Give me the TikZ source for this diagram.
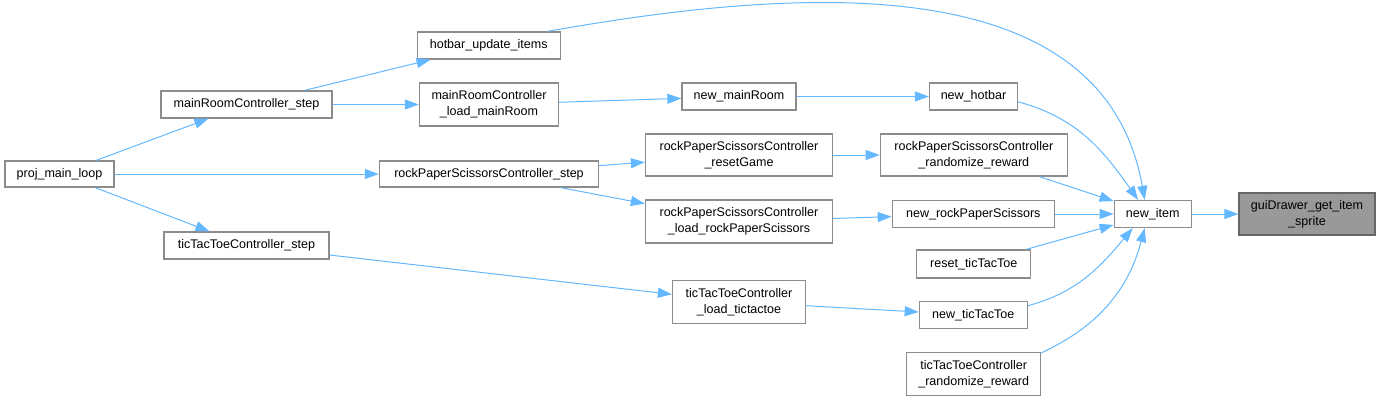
\documentclass[tikz,border=0pt]{standalone}
\usepackage{fontspec}
\setmainfont{Liberation Sans}
\usetikzlibrary{arrows.meta, positioning}
\definecolor{edgeblue}{RGB}{99,184,255}
\definecolor{boxgray}{RGB}{140,140,140}
\definecolor{hlfill}{RGB}{153,153,153}
\definecolor{hldraw}{RGB}{102,102,102}
\tikzset{
  % function box (width and height in px)
  fnbox/.style 2 args={
    rectangle, draw=boxgray, fill=white, line width=1pt,
    minimum width=#1*0.75pt, minimum height=#2*0.75pt, inner sep=0pt,
    align=center, font=\fontsize{9.4pt}{12pt}\selectfont
  },
  hlbox/.style 2 args={fnbox={#1}{#2}, draw=hldraw, fill=hlfill},
  callarrow/.style={-{Triangle[length=10.5pt, width=7.5pt]}, edgeblue, line width=0.75pt}
}
\begin{document}
\begin{tikzpicture}[x=0.75pt, y=-0.75pt]
  \useasboundingbox (0,0) rectangle (1380,401);

  % Callers, left to right
  \node[fnbox={109}{26}] (loop) at (59.5,174) {proj\_main\_loop};

  \node[fnbox={171}{27}] (mrstep) at (246.5,104.5) {mainRoomController\_step};
  \node[fnbox={165}{27}] (tttstep) at (246.5,245.5) {ticTacToeController\_step};

  \node[fnbox={143}{27}] (hbupd) at (488.7,45.5) {hotbar\_update\_items};
  \node[fnbox={139}{43}] (mrload) at (489,104.5) {mainRoomController\\\_load\_mainRoom};
  \node[fnbox={219}{26}] (rpsstep) at (489,174) {rockPaperScissorsController\_step};

  \node[fnbox={114}{27}] (newmr) at (739,96.5) {new\_mainRoom};
  \node[fnbox={187}{42}] (rpsreset) at (739,155) {rockPaperScissorsController\\\_resetGame};
  \node[fnbox={187}{43}] (rpsload) at (739,221.5) {rockPaperScissorsController\\\_load\_rockPaperScissors};
  \node[fnbox={133}{43}] (tttload) at (739,302) {ticTacToeController\\\_load\_tictactoe};

  \node[fnbox={88}{27}] (newhb) at (973.5,96.5) {new\_hotbar};
  \node[fnbox={187}{42}] (rpsrand) at (973.8,155) {rockPaperScissorsController\\\_randomize\_reward};
  \node[fnbox={162}{27}] (newrps) at (973.3,214) {new\_rockPaperScissors};
  \node[fnbox={114}{28}] (tttreset) at (973.7,264) {reset\_ticTacToe};
  \node[fnbox={108}{27}] (newttt) at (973.3,315) {new\_ticTacToe};
  \node[fnbox={134}{43}] (tttrand) at (973.7,373.7) {ticTacToeController\\\_randomize\_reward};

  \node[fnbox={77}{27}] (newitem) at (1152.7,214) {new\_item};
  \node[hlbox={136}{42}] (sprite) at (1307,214) {guiDrawer\_get\_item\\\_sprite};

  % Calls
  \draw[callarrow] (loop) -- (mrstep);
  \draw[callarrow] (loop) -- (rpsstep);
  \draw[callarrow] (loop) -- (tttstep);

  \draw[callarrow] (mrstep) -- (hbupd);
  \draw[callarrow] (mrstep) -- (mrload);
  \draw[callarrow] (mrload) -- (newmr);
  \draw[callarrow] (newmr) -- (newhb);

  \draw[callarrow] (rpsstep) -- (rpsreset);
  \draw[callarrow] (rpsstep) -- (rpsload);
  \draw[callarrow] (rpsreset) -- (rpsrand);
  \draw[callarrow] (rpsload) -- (newrps);

  \draw[callarrow] (tttstep) -- (tttload);
  \draw[callarrow] (tttload) -- (newttt);

  \draw[callarrow] ([xshift=-10pt]hbupd.north east) to[out=10, in=100] ([xshift=-6pt]newitem.north);
  \draw[callarrow] ([yshift=-4pt]newhb.east) to[out=-15, in=125] ([xshift=-11pt]newitem.north);
  \draw[callarrow] (rpsrand) -- (newitem);
  \draw[callarrow] (newrps) -- (newitem);
  \draw[callarrow] (tttreset) -- (newitem);
  \draw[callarrow] ([yshift=7pt]newttt.east) to[out=15, in=-130] ([xshift=-15pt]newitem.south);
  \draw[callarrow] ([yshift=-1pt]tttrand.north east) to[out=25, in=-105] ([xshift=-6pt]newitem.south);

  \draw[callarrow] (newitem) -- (sprite);
\end{tikzpicture}
\end{document}
